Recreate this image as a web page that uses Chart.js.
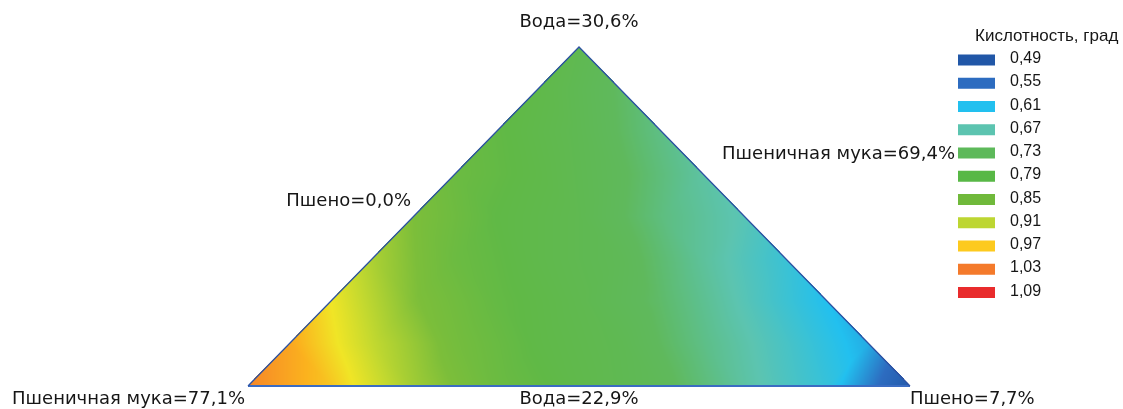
<!DOCTYPE html>
<html>
<head>
<meta charset="utf-8">
<script src="https://cdn.jsdelivr.net/npm/chart.js@4"></script>
<style>
  html, body { margin: 0; padding: 0; background: #fff; }
  #wrap { width: 1123px; height: 409px; }
</style>
</head>
<body>
<div id="wrap"><canvas id="acidChart" width="1123" height="409"></canvas></div>
<script>
// Acidity over the flour / water / millet simplex, 8 steps per side.
// Row 0 is the base (water at minimum), the last row is the apex (water at maximum).
// Each row runs from the left edge (millet 0 %) to the right edge (flour at minimum).
const acidRow0 = [1.02, 0.97, 0.88, 0.815, 0.775, 0.74, 0.68, 0.63, 0.50];
const acidRow1 = [0.995, 0.91, 0.835, 0.785, 0.755, 0.70, 0.65, 0.595];
const acidRow2 = [0.945, 0.855, 0.80, 0.765, 0.72, 0.665, 0.61];
const acidRow3 = [0.89, 0.815, 0.775, 0.745, 0.685, 0.635];
const acidRow4 = [0.85, 0.79, 0.76, 0.705, 0.665];
const acidRow5 = [0.815, 0.78, 0.735, 0.68];
const acidRow6 = [0.795, 0.755, 0.70];
const acidRow7 = [0.78, 0.725];
const acidRow8 = [0.76];
const acidRows = [acidRow0, acidRow1, acidRow2, acidRow3, acidRow4, acidRow5, acidRow6, acidRow7, acidRow8];

// corner labels: left, top, right; side labels: left side, right side, base
const vertexLabels = ["Пшеничная мука=77,1%", "Вода=30,6%", "Пшено=7,7%"];
const sideLabels = ["Пшено=0,0%", "Пшеничная мука=69,4%", "Вода=22,9%"];

const legendTitle = "Кислотность, град";
const legendLevels = [0.49, 0.55, 0.61, 0.67, 0.73, 0.79, 0.85, 0.91, 0.97, 1.03, 1.09];
const legendColors = ["#2157a7", "#2d6cc0", "#22c0ef", "#5cc4b0", "#5db95a", "#58b846",
                      "#70b93b", "#bdd632", "#fdca1e", "#f47a2b", "#e92b2c"];

// shading ramp for the surface: the legend colours plus a lemon step between 0,91 and 0,97
const rampValues = [0.49, 0.55, 0.61, 0.67, 0.73, 0.79, 0.85, 0.91, 0.945, 0.985, 1.03, 1.09];
const rampColors = ["#2157a7", "#2d6cc0", "#22c0ef", "#5cc4b0", "#5fb95c", "#60b946",
                    "#7cbe3a", "#c4d92f", "#f0e526", "#fbb21e", "#f47a2b", "#e92b2c"];

function hexToRgb(h) {
  const n = parseInt(h.slice(1), 16);
  return [n >> 16, (n >> 8) & 255, n & 255];
}
const rampRgb = rampColors.map(hexToRgb);

function colourFor(v) {
  const last = rampValues.length - 1;
  if (v <= rampValues[0]) return rampRgb[0];
  if (v >= rampValues[last]) return rampRgb[last];
  let k = 0;
  while (v > rampValues[k + 1]) k++;
  const t = (v - rampValues[k]) / (rampValues[k + 1] - rampValues[k]);
  const a = rampRgb[k], b = rampRgb[k + 1];
  return [a[0] + (b[0] - a[0]) * t, a[1] + (b[1] - a[1]) * t, a[2] + (b[2] - a[2]) * t];
}

// value inside the triangle (x 0..1, y 0..1, apex at x = 0.5), linear on each lattice cell
const N = acidRows.length - 1;
function acidAt(x, y) {
  const u = y * N;
  const v = (x - y / 2) * N;
  if (u < -0.01 || v < -0.01 || u + v > N + 0.01) return null;
  let i = Math.max(0, Math.min(Math.floor(u), N - 1));
  let j = Math.max(0, Math.floor(v));
  if (i + j > N - 1) j = N - 1 - i;
  const fu = u - i, fv = v - j;
  const R = acidRows;
  if (fu + fv <= 1 || j + 1 > N - i - 1) {
    return R[i][j] * (1 - fu - fv) + R[i + 1][j] * fu + R[i][j + 1] * fv;
  }
  return R[i + 1][j + 1] * (fu + fv - 1) + R[i + 1][j] * (1 - fv) + R[i][j + 1] * (1 - fu);
}

const surfacePlugin = {
  id: "surface",
  beforeDatasetsDraw(chart) {
    const xs = chart.scales.x, ys = chart.scales.y;
    const x0 = Math.floor(xs.getPixelForValue(0)), x1 = Math.ceil(xs.getPixelForValue(1));
    const y0 = Math.floor(ys.getPixelForValue(1)), y1 = Math.ceil(ys.getPixelForValue(0));
    const w = x1 - x0 + 1, h = y1 - y0 + 1;
    const off = document.createElement("canvas");
    off.width = w;
    off.height = h;
    const octx = off.getContext("2d");
    const img = octx.createImageData(w, h);
    for (let py = 0; py < h; py++) {
      const dy = ys.getValueForPixel(y0 + py + 0.5);
      for (let px = 0; px < w; px++) {
        const dx = xs.getValueForPixel(x0 + px + 0.5);
        const v = acidAt(dx, dy);
        if (v === null) continue;
        const c = colourFor(v);
        const k = (py * w + px) * 4;
        img.data[k] = c[0];
        img.data[k + 1] = c[1];
        img.data[k + 2] = c[2];
        img.data[k + 3] = 255;
      }
    }
    octx.putImageData(img, 0, 0);
    chart.ctx.drawImage(off, x0, y0);
  }
};

const textPlugin = {
  id: "texts",
  afterDraw(chart) {
    const ctx = chart.ctx;
    const xs = chart.scales.x, ys = chart.scales.y;
    const leftX = xs.getPixelForValue(0), rightX = xs.getPixelForValue(1);
    const midX = xs.getPixelForValue(0.5);
    const baseY = ys.getPixelForValue(0), apexY = ys.getPixelForValue(1);

    ctx.save();
    ctx.fillStyle = "#161616";
    ctx.font = '18px "DejaVu Sans"';
    ctx.textBaseline = "alphabetic";

    ctx.textAlign = "right";
    ctx.fillText(vertexLabels[0], leftX - 3, baseY + 18);
    ctx.textAlign = "center";
    ctx.fillText(vertexLabels[1], midX, apexY - 20);
    ctx.textAlign = "left";
    ctx.fillText(vertexLabels[2], rightX, baseY + 18);

    ctx.textAlign = "right";
    ctx.fillText(sideLabels[0], 411, 206);
    ctx.fillText(sideLabels[1], 955, 159);
    ctx.textAlign = "center";
    ctx.fillText(sideLabels[2], midX, baseY + 18);

    // legend
    ctx.textAlign = "left";
    ctx.font = '17px "Liberation Sans"';
    ctx.fillText(legendTitle, 975, 41);
    ctx.font = '16px "Liberation Sans"';
    legendLevels.forEach((lvl, k) => {
      const cy = 60 + k * 23.25;
      ctx.fillStyle = legendColors[k];
      ctx.fillRect(958, cy - 5.5, 37, 11);
      ctx.fillStyle = "#161616";
      ctx.fillText(lvl.toFixed(2).replace(".", ","), 1010, cy + 3);
    });
    ctx.restore();
  }
};

new Chart(document.getElementById("acidChart"), {
  type: "scatter",
  data: {
    datasets: [
      {
        // triangle sides
        data: [{ x: 0, y: 0 }, { x: 0.5, y: 1 }, { x: 1, y: 0 }],
        showLine: true,
        borderColor: "#2d52a3",
        borderWidth: 1.3,
        pointRadius: 0,
        clip: false
      },
      {
        // base
        data: [{ x: 0, y: 0 }, { x: 1, y: 0 }],
        showLine: true,
        borderColor: "#3a6cc2",
        borderWidth: 2.2,
        pointRadius: 0,
        clip: false
      }
    ]
  },
  options: {
    responsive: false,
    devicePixelRatio: 1,
    animation: false,
    layout: { padding: { left: 248, right: 213, top: 47, bottom: 23 } },
    scales: {
      x: { type: "linear", min: 0, max: 1, display: false },
      y: { type: "linear", min: 0, max: 1, display: false }
    },
    plugins: {
      legend: { display: false },
      tooltip: { enabled: false }
    }
  },
  plugins: [surfacePlugin, textPlugin]
});
</script>
</body>
</html>
